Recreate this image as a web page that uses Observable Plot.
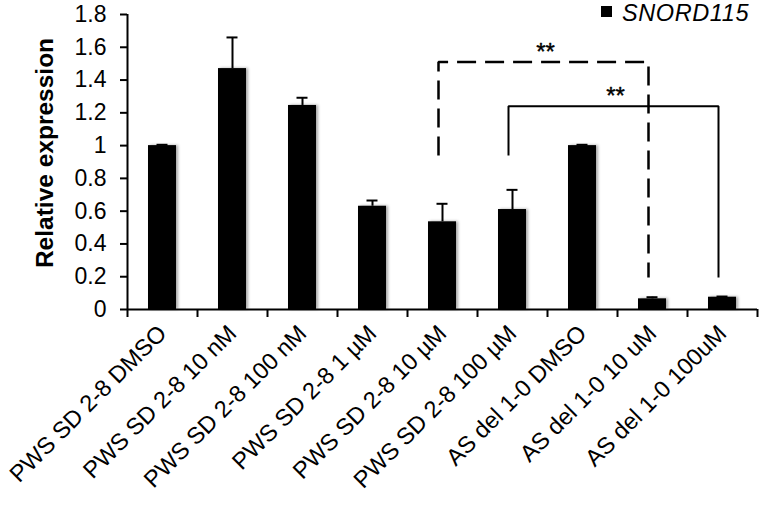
<!DOCTYPE html>
<html>
<head>
<meta charset="utf-8">
<script src="https://cdn.jsdelivr.net/npm/d3@7"></script>
<script src="https://cdn.jsdelivr.net/npm/@observablehq/plot@0.6"></script>
<style>
  html, body { margin: 0; padding: 0; background: #fff; }
  #wrap { position: relative; width: 760px; height: 507px; font-family: "Liberation Sans", Arial, sans-serif; }
  #legend { position: absolute; left: 601px; top: 0; height: 30px; }
  #legend .sw { position: absolute; left: 0; top: 6px; width: 11px; height: 11px; background: #000; }
  #legend .lab { position: absolute; left: 21px; top: 2px; font-size: 23.5px; line-height: 23px; font-style: italic; letter-spacing: 0.6px; white-space: nowrap; color: #000; }
  g[aria-label="bar"] rect { filter: drop-shadow(2px 0px 1.5px rgba(0,0,0,0.35)); }
</style>
</head>
<body>
<div id="wrap"></div>
<script>
// ---- data ----
const categories = [
  "PWS SD 2-8 DMSO",
  "PWS SD 2-8 10 nM",
  "PWS SD 2-8 100 nM",
  "PWS SD 2-8 1 µM",
  "PWS SD 2-8 10 µM",
  "PWS SD 2-8 100 µM",
  "AS del 1-0 DMSO",
  "AS del 1-0 10 uM",
  "AS del 1-0 100uM"
];
const values = [1.0, 1.47, 1.245, 0.63, 0.535, 0.61, 1.0, 0.065, 0.075];
const errors = [0.005, 0.19, 0.047, 0.035, 0.11, 0.12, 0.005, 0.01, 0.004];
const yTicks = [0, 0.2, 0.4, 0.6, 0.8, 1, 1.2, 1.4, 1.6, 1.8];
const yMax = 1.8;
const seriesName = "SNORD115";
const yTitle = "Relative expression";

// significance brackets
const bracketFrom = [4, 5];          // category index of left leg
const bracketTo = [7, 8];            // category index of right leg
const bracketTop = [1.51, 1.24];
const bracketFromEnd = [0.94, 0.94];
const bracketToEnd = [0.195, 0.195];
const bracketLabel = ["**", "**"];
const bracketDashed = [true, false];

// ---- build ----
const width = 760, height = 507;
const marginLeft = 127, marginRight = 3, marginTop = 14, marginBottom = 198;
const step = (width - marginLeft - marginRight) / categories.length;

const rows = categories.map((c, i) => ({cat: c, value: values[i], err: errors[i]}));

const bracketMarks = [];
bracketFrom.forEach((f, b) => {
  const t = bracketTo[b];
  const pts = [
    {cat: categories[f], y: bracketFromEnd[b]},
    {cat: categories[f], y: bracketTop[b]},
    {cat: categories[t], y: bracketTop[b]},
    {cat: categories[t], y: bracketToEnd[b]}
  ];
  bracketMarks.push(Plot.line(pts, {
    x: "cat", y: "y", stroke: "#000",
    strokeWidth: bracketDashed[b] ? 2.5 : 2,
    strokeDasharray: bracketDashed[b] ? "19,9" : null,
    strokeLinejoin: "miter", strokeLinecap: "butt",
    dx: -4
  }));
  const mid = (f + t) / 2;
  const base = Math.floor(mid);
  bracketMarks.push(Plot.text([bracketLabel[b]], {
    x: () => categories[base], y: () => bracketTop[b], text: d => d,
    dx: (mid - base) * step - 2, dy: -2,
    lineAnchor: "bottom", textAnchor: "middle",
    fontSize: 24, fill: "#000", stroke: "#000", strokeWidth: 0.4
  }));
});

const fmt = d => String(+d.toFixed(1));

const chart = Plot.plot({
  width, height, marginLeft, marginRight, marginTop, marginBottom,
  style: {fontFamily: '"Liberation Sans", Arial, sans-serif', fontSize: "22px", color: "#000", background: "transparent", overflow: "visible"},
  x: {domain: categories, paddingInner: 0.6, paddingOuter: 0.3, label: null},
  y: {domain: [0, yMax], label: null},
  marks: [
    Plot.barY(rows, {x: "cat", y: "value", fill: "#000"}),
    // error bars (upper only)
    Plot.ruleX(rows, {x: "cat", y1: "value", y2: d => d.value + d.err, stroke: "#000", strokeWidth: 2}),
    Plot.tickY(rows, {x: "cat", y: d => d.value + d.err, stroke: "#000", strokeWidth: 2, insetLeft: 8.5, insetRight: 8.5}),
    // axes
    Plot.ruleY([0], {stroke: "#000", strokeWidth: 2}),
    Plot.ruleX([categories[0]], {x: d => d, y1: yMax, y2: 0, dx: -step / 2, insetBottom: -8, stroke: "#000", strokeWidth: 2}),
    Plot.ruleX(categories.slice(1), {x: d => d, y1: 0, y2: 0, dx: -step / 2, insetBottom: -8, stroke: "#000", strokeWidth: 2}),
    Plot.ruleX([categories[categories.length - 1]], {x: d => d, y1: 0, y2: 0, dx: step / 2, insetBottom: -8, stroke: "#000", strokeWidth: 2}),
    Plot.axisY({ticks: yTicks, tickFormat: fmt, tickSize: 7, tickPadding: 14, strokeWidth: 2, fontSize: 23, label: null}),
    Plot.axisX({tickSize: 0, tickRotate: -45, textAnchor: "end", lineAnchor: "middle", tickPadding: 20, dx: 0, fontSize: 23.5, label: null}),
    Plot.text([yTitle], {frameAnchor: "left", text: d => d, rotate: -90, dx: -82, dy: -9, fontSize: 24.5, fontWeight: "bold", lineAnchor: "middle", textAnchor: "middle", fill: "#000"}),
    ...bracketMarks
  ]
});

const wrap = document.getElementById("wrap");
wrap.appendChild(chart);
const legend = document.createElement("div");
legend.id = "legend";
legend.innerHTML = `<div class="sw"></div><div class="lab"></div>`;
legend.querySelector(".lab").textContent = seriesName;
wrap.appendChild(legend);
</script>
</body>
</html>
